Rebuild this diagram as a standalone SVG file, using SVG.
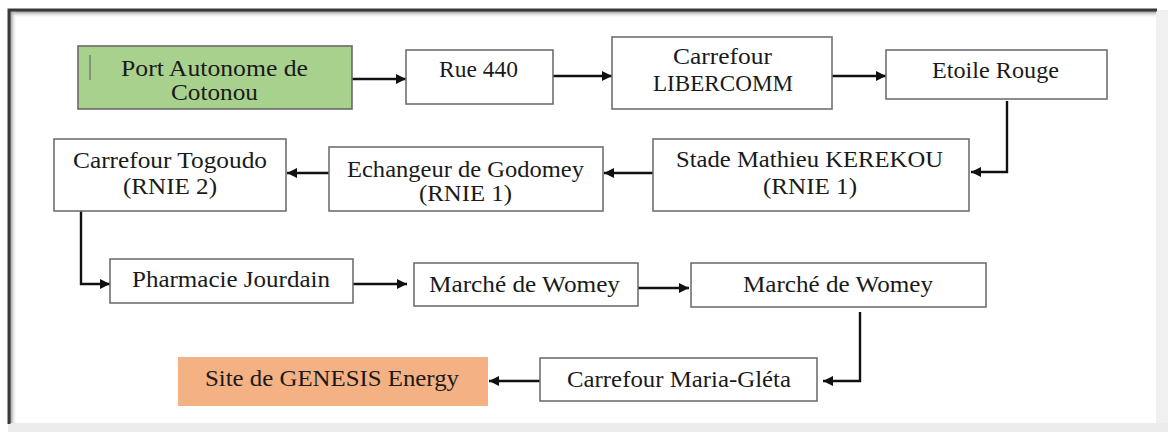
<svg xmlns="http://www.w3.org/2000/svg" width="1168" height="432" viewBox="0 0 1168 432">
  <defs>
    <linearGradient id="shadeTop" x1="0" y1="0" x2="0" y2="1">
      <stop offset="0" stop-color="#8a8a8a"/>
      <stop offset="1" stop-color="#ffffff" stop-opacity="0"/>
    </linearGradient>
    <linearGradient id="shadeLeft" x1="0" y1="0" x2="1" y2="0">
      <stop offset="0" stop-color="#8a8a8a"/>
      <stop offset="1" stop-color="#ffffff" stop-opacity="0"/>
    </linearGradient>
    <marker id="head" viewBox="0 0 10 10" refX="10" refY="5" markerWidth="12" markerHeight="10" markerUnits="userSpaceOnUse" orient="auto">
      <path d="M0,0 L10,5 L0,10 z" fill="#111"/>
    </marker>
  </defs>
  <style>
    .box { fill: #ffffff; stroke: #707070; stroke-width: 1.6; }
    .lbl { font-size: 23px; fill: #1a1a1a; }
    .link { fill: none; stroke: #111; stroke-width: 2.4; marker-end: url(#head); }
  </style>

  <!-- page background and frame -->
  <rect x="0" y="0" width="1168" height="432" fill="#ffffff"/>
  <rect x="1156" y="10" width="12" height="422" fill="#f0f0f0"/>
  <rect x="8" y="423" width="1160" height="9" fill="#ececec"/>
  <rect x="10" y="11" width="1146" height="7" fill="url(#shadeTop)"/>
  <rect x="10" y="11" width="7" height="412" fill="url(#shadeLeft)"/>
  <path d="M9,424 V10 H1157" fill="none" stroke="#3a3a3a" stroke-width="3"/>

  <!-- connectors -->
  <g id="connectors">
    <line class="link" x1="352" y1="79" x2="406" y2="79"/>
    <line class="link" x1="553" y1="76" x2="612" y2="76"/>
    <line class="link" x1="832" y1="76" x2="886" y2="76"/>
    <path class="link" d="M1007,101 V172 H971"/>
    <line class="link" x1="653" y1="173" x2="604" y2="173"/>
    <line class="link" x1="329" y1="173" x2="287" y2="173"/>
    <path class="link" d="M81,211 V284 H110"/>
    <line class="link" x1="353" y1="284" x2="407" y2="284"/>
    <line class="link" x1="638" y1="288" x2="689" y2="288"/>
    <path class="link" d="M860,312 V381 H823"/>
    <line class="link" x1="540" y1="381" x2="489" y2="381"/>
  </g>

  <g font-family="'Liberation Serif', 'DejaVu Serif', serif">
    <g id="port-autonome">
      <rect x="78" y="46" width="274" height="63" fill="#a9d18e" stroke="#6a6a6a" stroke-width="1.6"/>
      <line x1="90" y1="55" x2="90" y2="80" stroke="#7a7a7a" stroke-width="1.5"/>
      <text class="lbl" x="121" y="76" textLength="187" lengthAdjust="spacingAndGlyphs">Port Autonome de</text>
      <text class="lbl" x="171" y="100" textLength="87" lengthAdjust="spacingAndGlyphs">Cotonou</text>
    </g>

    <g id="rue-440">
      <rect class="box" x="406" y="50" width="147" height="54"/>
      <text class="lbl" x="439" y="77" textLength="79" lengthAdjust="spacingAndGlyphs">Rue 440</text>
    </g>

    <g id="carrefour-libercomm">
      <rect class="box" x="612" y="37" width="220" height="72"/>
      <text class="lbl" x="673" y="64" textLength="99" lengthAdjust="spacingAndGlyphs">Carrefour</text>
      <text class="lbl" x="653" y="91" textLength="140" lengthAdjust="spacingAndGlyphs">LIBERCOMM</text>
    </g>

    <g id="etoile-rouge">
      <rect class="box" x="886" y="50" width="221" height="49"/>
      <text class="lbl" x="932" y="78" textLength="127" lengthAdjust="spacingAndGlyphs">Etoile Rouge</text>
    </g>

    <g id="stade-kerekou">
      <rect class="box" x="653" y="139" width="316" height="72"/>
      <text class="lbl" x="676" y="167" textLength="267" lengthAdjust="spacingAndGlyphs">Stade Mathieu KEREKOU</text>
      <text class="lbl" x="763" y="194" textLength="94" lengthAdjust="spacingAndGlyphs">(RNIE 1)</text>
    </g>

    <g id="echangeur-godomey">
      <rect class="box" x="329" y="147" width="274" height="64"/>
      <text class="lbl" x="347" y="177" textLength="237" lengthAdjust="spacingAndGlyphs">Echangeur de Godomey</text>
      <text class="lbl" x="419" y="201" textLength="93" lengthAdjust="spacingAndGlyphs">(RNIE 1)</text>
    </g>

    <g id="carrefour-togoudo">
      <rect class="box" x="54" y="139" width="232" height="72"/>
      <text class="lbl" x="73" y="168" textLength="194" lengthAdjust="spacingAndGlyphs">Carrefour Togoudo</text>
      <text class="lbl" x="123" y="194" textLength="94" lengthAdjust="spacingAndGlyphs">(RNIE 2)</text>
    </g>

    <g id="pharmacie-jourdain">
      <rect class="box" x="110" y="259" width="243" height="44"/>
      <text class="lbl" x="132" y="287" textLength="198" lengthAdjust="spacingAndGlyphs">Pharmacie Jourdain</text>
    </g>

    <g id="marche-womey-1">
      <rect class="box" x="414" y="263" width="224" height="43"/>
      <text class="lbl" x="429" y="292" textLength="191" lengthAdjust="spacingAndGlyphs">Marché de Womey</text>
    </g>

    <g id="marche-womey-2">
      <rect class="box" x="691" y="263" width="295" height="44"/>
      <text class="lbl" x="743" y="292" textLength="190" lengthAdjust="spacingAndGlyphs">Marché de Womey</text>
    </g>

    <g id="carrefour-maria-gleta">
      <rect class="box" x="540" y="358" width="277" height="43"/>
      <text class="lbl" x="567" y="387" textLength="224" lengthAdjust="spacingAndGlyphs">Carrefour Maria-Gléta</text>
    </g>

    <g id="site-genesis">
      <rect x="178" y="357" width="310" height="49" fill="#f4b183"/>
      <text class="lbl" x="205" y="386" textLength="254" lengthAdjust="spacingAndGlyphs">Site de GENESIS Energy</text>
    </g>
  </g>
</svg>
